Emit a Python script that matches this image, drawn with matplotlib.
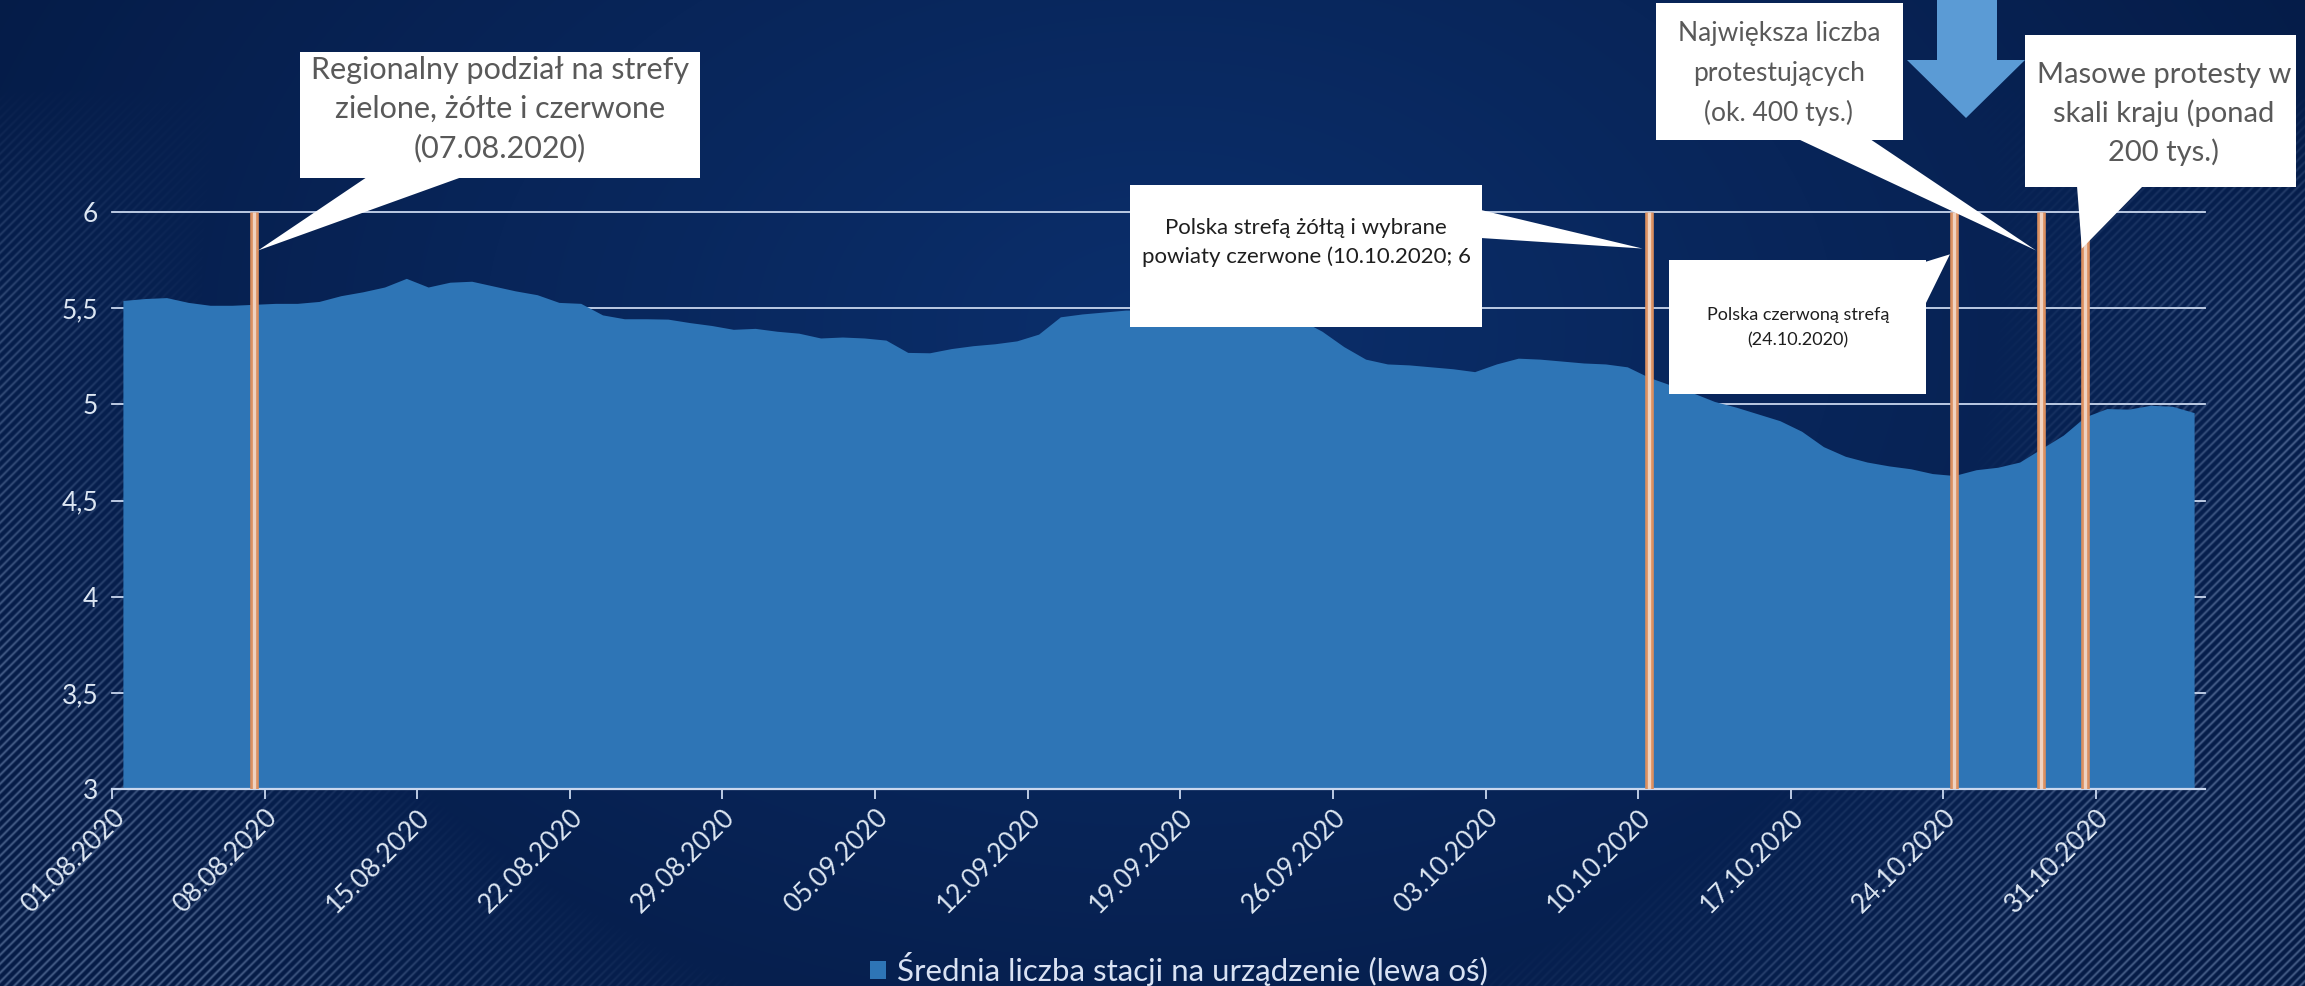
import numpy as np
import pandas as pd
import matplotlib
matplotlib.use('Agg')
import matplotlib.pyplot as plt
from matplotlib.patches import Polygon, Rectangle

plt.rcParams['font.family'] = ['Lato', 'DejaVu Sans']

W_PX, H_PX, DPI = 2305, 986, 100

# --- data: daily average number of stations per device, from 01.08.2020 ---
start_date = '2020-08-01'
avg_stations = [
    5.54, 5.55, 5.555, 5.53, 5.515, 5.515, 5.52, 5.525, 5.525, 5.535,
    5.565, 5.585, 5.61, 5.655, 5.61, 5.635, 5.64, 5.615, 5.59, 5.57,
    5.53, 5.525, 5.465, 5.445, 5.445, 5.443, 5.425, 5.41, 5.39, 5.395,
    5.38, 5.37, 5.345, 5.35, 5.345, 5.334, 5.27, 5.268, 5.29, 5.305,
    5.315, 5.33, 5.365, 5.455, 5.47, 5.48, 5.49, 5.49, 5.49, 5.49,
    5.485, 5.48, 5.47, 5.46, 5.44, 5.38, 5.30, 5.235, 5.21, 5.205,
    5.195, 5.185, 5.17, 5.21, 5.24, 5.235, 5.225, 5.215, 5.21, 5.195,
    5.14, 5.10, 5.06, 5.015, 4.985, 4.95, 4.915, 4.86, 4.78, 4.73,
    4.70, 4.68, 4.665, 4.64, 4.63, 4.66, 4.673, 4.70, 4.77, 4.84,
    4.935, 4.978, 4.975, 4.995, 4.99, 4.957,
]
event_dates = ['2020-08-07', '2020-10-10', '2020-10-24', '2020-10-28', '2020-10-30']
y_ticks = [3, 3.5, 4, 4.5, 5, 5.5, 6]
legend_label = 'Średnia liczba stacji na urządzenie (lewa oś)'

callout_texts = [
    'Regionalny podział na strefy\nzielone, żółte i czerwone\n(07.08.2020)',
    'Polska strefą żółtą i wybrane\npowiaty czerwone (10.10.2020; 6',
    'Polska czerwoną strefą\n(24.10.2020)',
    'Największa liczba\nprotestujących\n(ok. 400 tys.)',
    'Masowe protesty w\nskali kraju (ponad\n200 tys.)',
]

dates = pd.date_range(start_date, periods=len(avg_stations), freq='D')
day_x = np.arange(len(dates)) + 0.5          # values sit in the middle of each day
tick_idx = np.arange(0, len(dates), 7)
ev_idx = [(pd.Timestamp(d) - dates[0]).days for d in event_dates]

fig = plt.figure(figsize=(W_PX / DPI, H_PX / DPI), dpi=DPI)

# --- background: navy gradient with diagonal hatch towards the edges ---
yy, xx = np.mgrid[0:H_PX, 0:W_PX].astype(float)
c_mid = np.array([11, 47, 108]) / 255
c_edge = np.array([5, 27, 70]) / 255
r = np.clip(np.sqrt(((xx - 1160) / 1350) ** 2 + ((yy - 330) / 900) ** 2), 0, 1)
bg = c_mid * (1 - r[..., None]) + c_edge * r[..., None]
stripe = (0.5 + 0.5 * np.cos(2 * np.pi * (xx + yy) / 9.0)) ** 2.5
m = np.sqrt(((xx - 1100) / 975) ** 2 + ((yy - 294) / 812) ** 2)
mask = np.clip((m - 0.92) / 0.3, 0, 1) * np.clip((yy - 90) / 220, 0, 1)
w = (stripe * mask * 0.42)[..., None]
bg = bg * (1 - w) + (np.array([150, 175, 215]) / 255) * w
bax = fig.add_axes([0, 0, 1, 1], zorder=0)
bax.imshow(bg, aspect='auto', interpolation='bilinear')
bax.axis('off')

# --- main chart ---
ax = fig.add_axes([112 / W_PX, 1 - 789 / H_PX, (2205 - 112) / W_PX, (789 - 212) / H_PX], zorder=1)
ax.patch.set_alpha(0)
area = ax.fill_between(day_x, 3, avg_stations, color='#2E75B6', lw=0, zorder=2, label=legend_label)
for i in ev_idx:
    ax.vlines(i + 0.5, 3, 6, color='#DC9060', lw=6.2, zorder=3)
    ax.vlines(i + 0.5, 3, 6, color='#F0D2C0', lw=2.4, zorder=4)

ax.set_xlim(0, len(dates))
ax.set_ylim(3, 6)
ax.set_yticks(y_ticks)
ax.set_yticklabels([f'{v:g}'.replace('.', ',') for v in y_ticks])
ax.set_xticks(tick_idx)
ax.set_xticklabels([d.strftime('%d.%m.%Y') for d in dates[tick_idx]],
                   rotation=45, ha='right', va='top', rotation_mode='anchor')
ax.set_axisbelow(True)
ax.yaxis.grid(True, color='#C9D7EE', lw=1.3)
for gl in ax.get_ygridlines():
    gl.set_clip_on(False)
for s in ['left', 'right', 'top']:
    ax.spines[s].set_visible(False)
ax.spines['bottom'].set_color('#C9D7EE')
ax.spines['bottom'].set_linewidth(1.6)
ax.tick_params(axis='y', length=0, pad=10, labelsize=19, labelcolor='#DCE6F2')
ax.tick_params(axis='x', length=7, width=1.3, color='#C9D7EE', pad=4,
               labelsize=19, labelcolor='#DCE6F2')

fig.legend(handles=[area], labels=[legend_label], loc='center', bbox_to_anchor=(0.5115, 0.0172),
           frameon=False, fontsize=22.5, labelcolor='#D9E2F3', handlelength=0.5,
           handleheight=0.5, handletextpad=0.35)

# --- callouts, drawn in pixel space (origin top-left) ---
ov = fig.add_axes([0, 0, 1, 1], zorder=5)
ov.set_xlim(0, W_PX)
ov.set_ylim(H_PX, 0)
ov.axis('off')
ov.patch.set_alpha(0)


def tip_px(day, value):
    x, y = ax.transData.transform((day, value))
    return x, H_PX - y


def callout(box, base, tip, text, tx, lines_y, size, color, family=None):
    x0, y0, x1, y1 = box
    ov.add_patch(Rectangle((x0, y0), x1 - x0, y1 - y0, fc='white', ec='none', zorder=6))
    ov.add_patch(Polygon([base[0], base[1], tip], closed=True, fc='white', ec='none', zorder=6))
    kw = {} if family is None else {'family': family}
    for line, ly in zip(text.split('\n'), lines_y):
        ov.text(tx, ly, line, ha='center', va='center', fontsize=size, color=color, zorder=7, **kw)


narrow = ['Liberation Sans Narrow', 'Lato', 'DejaVu Sans']
callout((300, 52, 700, 178), ((367, 177), (462, 177)), tip_px(ev_idx[0] + 0.7, 5.80),
        callout_texts[0], 500, (70, 109, 148), 22, '#595959')
callout((1130, 185, 1482, 327), ((1481, 210), (1481, 238)), tip_px(ev_idx[1] + 0.2, 5.81),
        callout_texts[1], 1306, (228, 257), 16, '#1E1E1E', narrow)
callout((1669, 260, 1926, 394), ((1925, 262), (1925, 305)), tip_px(ev_idx[2] + 0.3, 5.78),
        callout_texts[2], 1798, (315, 340), 13, '#1E1E1E')
callout((1656, 3, 1903, 140), ((1798, 139), (1870, 139)), tip_px(ev_idx[3] + 0.25, 5.80),
        callout_texts[3], 1779, (34, 74, 113), 19, '#595959')
callout((2025, 35, 2296, 187), ((2077, 186), (2143, 186)), tip_px(ev_idx[4] + 0.35, 5.81),
        callout_texts[4], 2164, (75, 113, 152), 21, '#595959')

# big down arrow above the protest markers
ov.add_patch(Polygon([(1937, 0), (1997, 0), (1997, 60), (2025, 60), (1966, 118),
                      (1907, 60), (1937, 60)], closed=True, fc='#5B9BD5', ec='none', zorder=6))

fig.savefig('out.png', dpi=DPI)
